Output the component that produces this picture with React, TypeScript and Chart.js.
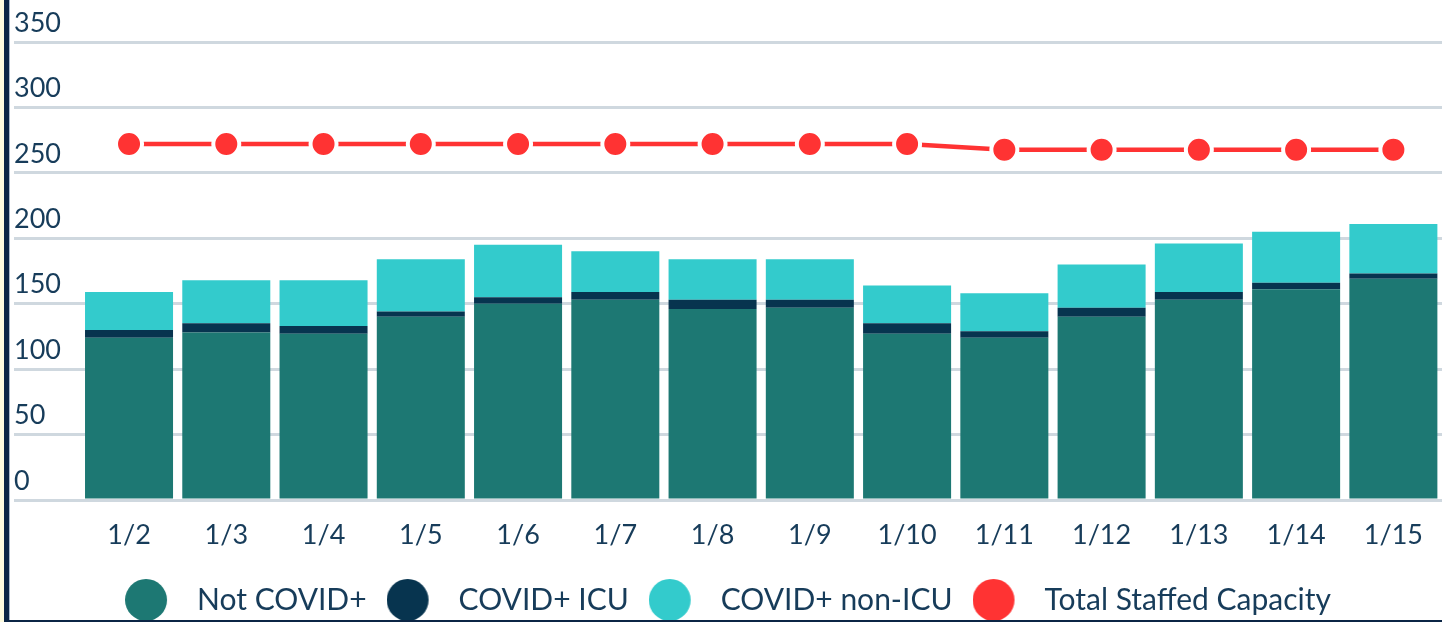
import React, { useEffect, useRef } from "react";
import { Chart, registerables } from "chart.js";

Chart.register(...registerables);

const categories = ["1/2", "1/3", "1/4", "1/5", "1/6", "1/7", "1/8", "1/9", "1/10", "1/11", "1/12", "1/13", "1/14", "1/15"];
const notCovid = [124, 128, 127, 140, 150, 153, 146, 147, 127, 124, 140, 153, 161, 169];
const covidIcu = [6, 7, 6, 4, 5, 6, 7, 6, 8, 5, 7, 6, 5, 4];
const covidNonIcu = [29, 33, 35, 40, 40, 31, 31, 31, 29, 29, 33, 37, 39, 38];
const totalStaffed = [272, 272, 272, 272, 272, 272, 272, 272, 272, 267.6, 267.6, 267.6, 267.6, 267.6];
const yTicks = [0, 50, 100, 150, 200, 250, 300, 350];

const FONT = "Lato";
const TEXT = "#173c5a";

function legendDot(color: string) {
  const c = document.createElement("canvas");
  c.width = 57;
  c.height = 44;
  const ctx = c.getContext("2d")!;
  ctx.fillStyle = color;
  ctx.beginPath();
  ctx.arc(21, 22, 21, 0, Math.PI * 2);
  ctx.fill();
  return c;
}

export default function App() {
  const ref = useRef<HTMLCanvasElement>(null);
  useEffect(() => {
    const colors = ["#1d7873", "#07344f", "#33cbcc", "#ff3333"];
    const dots = colors.map(legendDot);
    const chart = new Chart(ref.current!, {
      type: "bar",
      data: {
        labels: categories,
        datasets: [
          { label: "Not COVID+", data: notCovid, backgroundColor: colors[0], stack: "beds" },
          { label: "COVID+ ICU", data: covidIcu, backgroundColor: colors[1], stack: "beds" },
          { label: "COVID+ non-ICU", data: covidNonIcu, backgroundColor: colors[2], stack: "beds" },
          {
            type: "line",
            label: "Total Staffed Capacity",
            data: totalStaffed,
            stack: "capacity",
            borderColor: colors[3],
            backgroundColor: colors[3],
            borderWidth: 4.5,
            pointRadius: 13,
            pointBorderWidth: 4,
            pointBorderColor: "#ffffff",
            pointBackgroundColor: colors[3],
            tension: 0,
          } as any,
        ],
      },
      options: {
        responsive: false,
        animation: false,
        layout: { autoPadding: false, padding: { left: 14, top: 42, right: 0, bottom: 0 } },
        datasets: { bar: { categoryPercentage: 1, barPercentage: 0.905 } },
        plugins: {
          tooltip: { enabled: false },
          legend: {
            position: "bottom",
            labels: {
              usePointStyle: true,
              pointStyleWidth: 57,
              padding: 20,
              color: TEXT,
              font: { family: FONT, size: 30 },
              generateLabels: (ch: any) => {
                const base = Chart.defaults.plugins.legend.labels.generateLabels(ch);
                return base.map((l: any, i: number) => ({ ...l, pointStyle: dots[i], lineWidth: 0 }));
              },
            },
          },
        },
        scales: {
          x: {
            stacked: true,
            grid: { display: false },
            border: { display: false },
            ticks: { color: TEXT, font: { family: FONT, size: 27 }, padding: 11.5, maxRotation: 0 },
            afterFit: (s: any) => {
              s.height = 65;
            },
          },
          y: {
            stacked: true,
            min: 0,
            max: 350,
            afterBuildTicks: (s: any) => {
              s.ticks = yTicks.map((v) => ({ value: v }));
            },
            afterFit: (s: any) => {
              s.width = 66.4;
            },
            grid: { color: "#cfd8df", lineWidth: 3, tickLength: 66.4, drawTicks: true },
            border: { display: false },
            ticks: {
              color: TEXT,
              font: { family: FONT, size: 27 },
              crossAlign: "far",
              labelOffset: -19,
              padding: 0,
            },
          },
        },
      },
    });
    return () => chart.destroy();
  }, []);
  return (
    <div style={{ position: "fixed", left: 0, top: 0, width: 1442, height: 622, background: "#fff", overflow: "hidden" }}>
      <canvas ref={ref} width={1442} height={625} style={{ position: "absolute", left: 0, top: 0, width: 1442, height: 625 }} />
      <div style={{ position: "absolute", left: 0, top: 0, width: 4, height: 622, background: "#fdfbdf" }} />
      <div style={{ position: "absolute", left: 4, top: 0, width: 5, height: 622, background: "#0b2545" }} />
      <div style={{ position: "absolute", left: 9, top: 0, width: 1, height: 622, background: "#a9b8c8" }} />
      <div style={{ position: "absolute", left: 9, top: 620, width: 1433, height: 2, background: "#0b2545" }} />
    </div>
  );
}
